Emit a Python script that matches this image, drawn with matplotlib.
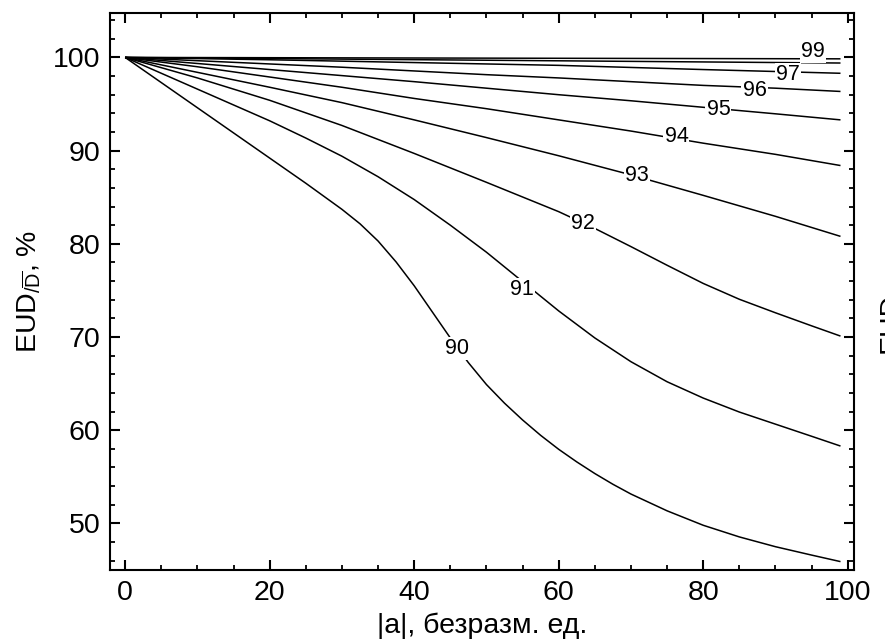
import matplotlib
matplotlib.use('Agg')
import matplotlib.pyplot as plt
from matplotlib.ticker import MultipleLocator
from matplotlib.transforms import Bbox, TransformedBbox

plt.rcParams['font.family'] = ['Liberation Sans', 'DejaVu Sans']
plt.rcParams['mathtext.fontset'] = 'custom'
plt.rcParams['mathtext.rm'] = 'Liberation Sans'
plt.rcParams['mathtext.it'] = 'Liberation Sans:italic'
plt.rcParams['mathtext.bf'] = 'Liberation Sans:bold'

# ---- data ----
x90 = [0, 5, 10, 15, 20, 25, 27.5, 30, 32.5, 35, 37.5, 40, 42.5, 45, 47.5, 50,
       52.5, 55, 57.5, 60, 62.5, 65, 67.5, 70, 75, 80, 85, 90, 95, 99]
y90 = [100, 97.3, 94.6, 91.9, 89.2, 86.5, 85.1, 83.7, 82.15, 80.3, 78.05, 75.5, 72.7,
       69.9, 67.25, 64.9, 62.9, 61.1, 59.45, 57.95, 56.6, 55.35, 54.2, 53.15, 51.35,
       49.8, 48.55, 47.5, 46.6, 45.9]

x91 = [0, 10, 20, 25, 30, 35, 40, 45, 50, 55, 60, 65, 70, 75, 80, 85, 90, 95, 99]
y91 = [100, 96.6, 93.2, 91.35, 89.4, 87.2, 84.75, 82.0, 79.1, 75.95, 72.8, 69.9,
       67.35, 65.2, 63.45, 61.95, 60.65, 59.35, 58.3]

x92 = [0, 10, 20, 30, 40, 50, 60, 65, 70, 75, 80, 85, 90, 95, 99]
y92 = [100, 97.8, 95.4, 92.7, 89.7, 86.6, 83.45, 81.65, 79.7, 77.7, 75.75, 74.05,
       72.6, 71.2, 70.1]

x93 = [0, 10, 20, 30, 40, 50, 60, 70, 80, 90, 99]
y93 = [100, 98.4, 96.8, 95.15, 93.3, 91.4, 89.45, 87.4, 85.2, 82.95, 80.8]

x94 = [0, 10, 20, 30, 40, 50, 60, 70, 80, 90, 99]
y94 = [100, 99.0, 97.9, 96.8, 95.6, 94.5, 93.3, 92.1, 90.8, 89.6, 88.4]

x95 = [0, 10, 20, 30, 40, 50, 60, 70, 80, 90, 99]
y95 = [100, 99.35, 98.7, 98.05, 97.4, 96.7, 96.0, 95.35, 94.65, 93.95, 93.3]

x96 = [0, 10, 20, 30, 40, 50, 60, 70, 80, 90, 99]
y96 = [100, 99.65, 99.3, 98.95, 98.55, 98.15, 97.8, 97.4, 97.0, 96.7, 96.35]

x97 = [0, 20, 40, 60, 80, 99]
y97 = [100, 99.75, 99.45, 99.15, 98.7, 98.3]

x98 = [0, 50, 99]
y98 = [100, 99.7, 99.4]

x99 = [0, 99]
y99 = [100, 99.85]

curves = [(x90, y90), (x91, y91), (x92, y92), (x93, y93), (x94, y94),
          (x95, y95), (x96, y96), (x97, y97), (x98, y98), (x99, y99)]

label_text = ['90', '91', '92', '93', '94', '95', '96', '97', '99']
label_x = [45.9, 54.9, 63.4, 70.8, 76.3, 82.1, 87.1, 91.7, 95.2]
label_y = [68.8, 75.1, 82.2, 87.3, 91.5, 94.4, 96.5, 98.2, 100.6]

xticks = [0, 20, 40, 60, 80, 100]
yticks = [50, 60, 70, 80, 90, 100]

# ---- figure ----
W, H = 894, 644
fig = plt.figure(figsize=(W / 100, H / 100), dpi=100)
L, R, T, B = 110, 853.5, 12.7, 570
ax = fig.add_axes([L / W, 1 - B / H, (R - L) / W, (B - T) / H])

for xs, ys in curves:
    ax.plot(xs, ys, color='black', lw=1.1, solid_capstyle='butt',
            solid_joinstyle='round', zorder=2)

for t, lx, ly in zip(label_text, label_x, label_y):
    ax.text(lx, ly, t, fontsize=15.5, ha='center', va='center', zorder=3,
            bbox=dict(boxstyle='square,pad=0.05', fc='white', ec='none'))

ax.set_xlim(-2.1, 100.8)
ax.set_ylim(45.0, 104.8)
ax.set_xticks(xticks)
ax.set_yticks(yticks)
ax.xaxis.set_minor_locator(MultipleLocator(5))
ax.yaxis.set_minor_locator(MultipleLocator(2))

for s in ax.spines.values():
    s.set_linewidth(1.5)
ax.tick_params(which='both', direction='in', top=True, right=True)
ax.tick_params(which='major', length=7, width=1.5, labelsize=20.5, pad=7)
ax.tick_params(which='minor', length=3.6, width=1.3)

ax.set_xlabel('|a|, безразм. ед.', fontsize=20.5, labelpad=5)
ax.set_ylabel(r'EUD$_{/\overline{\mathrm{D}}}$, %', fontsize=20.5)
ax.yaxis.set_label_coords((44 - L) / (R - L), 0.5)

# fragment of a neighbouring panel's axis label, cut at the panel boundary
frag = fig.text(878 / W, 1 - 353 / H, 'EUD', rotation=90, ha='left', va='bottom',
                fontsize=20.5)
frag.set_clip_box(TransformedBbox(Bbox([[0, 0], [885 / W, 1]]), fig.transFigure))
frag.set_clip_on(True)

fig.savefig('out.png', dpi=100)
